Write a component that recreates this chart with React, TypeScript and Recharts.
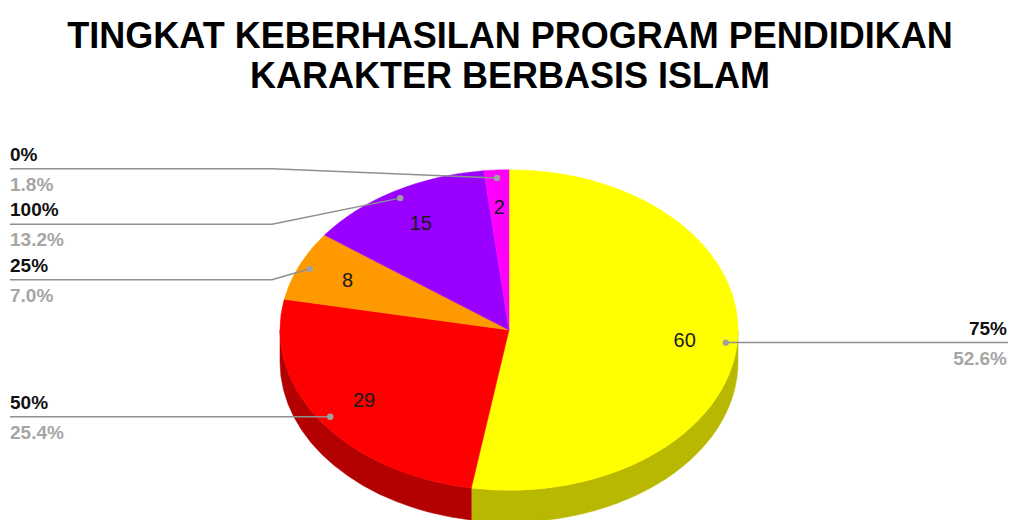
import React from 'react';
import { PieChart, Pie } from 'recharts';

const categories = ['75%', '50%', '25%', '100%', '0%'];
const counts = [60, 29, 8, 15, 2];
const topColors = ['#ffff00', '#ff0000', '#ff9900', '#9900ff', '#ff00ff'];
const sideColors = ['#b8b800', '#b30000', '#b36b00', '#6b00b3', '#b300b3'];
const titleLines = ['TINGKAT KEBERHASILAN PROGRAM PENDIDIKAN', 'KARAKTER BERBASIS ISLAM'];

const data = categories.map((name, i) => ({
  name,
  value: counts[i],
  fill: topColors[i],
  side: sideColors[i],
}));

const W = 1010;
const H = 520;
const CX = 509;
const CY = 330;
const R = 229;
const TILT = 0.7;
const DEPTH = 32;
const START = 90;
const END = -270;
const FONT = '"Liberation Sans", Arial, Helvetica, sans-serif';
const RAD = Math.PI / 180;
const LABEL_GAP = 55.5;

function pt(cx: number, cy: number, rx: number, ry: number, theta: number): [number, number] {
  return [cx + rx * Math.cos(theta * RAD), cy + ry * Math.sin(theta * RAD)];
}
const f = (p: [number, number]) => `${p[0].toFixed(2)},${p[1].toFixed(2)}`;

// label layout (avoid overlapping outside labels)
function computeLabelLines(): number[] {
  const total = counts.reduce((a, b) => a + b, 0);
  let acc = 0;
  const items = counts.map((v, i) => {
    const startTheta = -START + (acc / total) * 360;
    acc += v;
    const endTheta = -START + (acc / total) * 360;
    const mid = (startTheta + endTheta) / 2;
    const [, dy] = pt(CX, CY, R * 0.95, R * TILT * 0.95, mid);
    return { i, dotY: dy, left: Math.cos(mid * RAD) < 0 };
  });
  const result: number[] = new Array(counts.length).fill(0);
  [true, false].forEach((side) => {
    const list = items.filter((it) => it.left === side).sort((a, b) => a.dotY - b.dotY);
    const ys: number[] = [];
    list.forEach((it, k) => {
      ys.push(k === 0 ? it.dotY : Math.max(it.dotY, ys[k - 1] + LABEL_GAP));
    });
    // clusters
    let s = 0;
    while (s < list.length) {
      let e = s;
      while (e + 1 < list.length && ys[e + 1] > list[e + 1].dotY + 1e-6) e++;
      if (e > s) {
        let g = 0;
        let d = 0;
        for (let k = s; k <= e; k++) {
          g += ys[k];
          d += list[k].dotY;
        }
        const shift = (d - g) / (e - s + 1) / 2;
        for (let k = s; k <= e; k++) ys[k] += shift;
      }
      s = e + 1;
    }
    list.forEach((it, k) => {
      result[it.i] = ys[k];
    });
  });
  return result;
}
const labelLines = computeLabelLines();

const TopShape = (props: any) => {
  const { cx, cy, outerRadius, startAngle, endAngle, fill } = props;
  const rx = outerRadius;
  const ry = outerRadius * TILT;
  const t1 = Math.min(-startAngle, -endAngle);
  const t2 = Math.max(-startAngle, -endAngle);
  const large = t2 - t1 > 180 ? 1 : 0;
  const p1 = pt(cx, cy, rx, ry, t1);
  const p2 = pt(cx, cy, rx, ry, t2);
  const d = `M${cx},${cy} L${f(p1)} A${rx},${ry} 0 ${large} 1 ${f(p2)} Z`;
  return <path d={d} fill={fill} stroke={fill} strokeWidth={0.5} />;
};

const SideShape = (props: any) => {
  const { cx, cy, outerRadius, startAngle, endAngle, payload, index } = props;
  const rx = outerRadius;
  const ry = outerRadius * TILT;
  const t1 = Math.min(-startAngle, -endAngle);
  const t2 = Math.max(-startAngle, -endAngle);
  const a = Math.max(t1, 0);
  const b = Math.min(t2, 180);
  if (b <= a) return <g />;
  const color = (payload && payload.side) || sideColors[index ?? 0];
  const pa = pt(cx, cy, rx, ry, a);
  const pb = pt(cx, cy, rx, ry, b);
  const pad: [number, number] = [pa[0], pa[1] + DEPTH];
  const pbd: [number, number] = [pb[0], pb[1] + DEPTH];
  const d = `M${f(pa)} A${rx},${ry} 0 0 1 ${f(pb)} L${f(pbd)} A${rx},${ry} 0 0 0 ${f(pad)} Z`;
  return <path d={d} fill={color} stroke={color} strokeWidth={0.5} />;
};

const renderLabel = (props: any) => {
  const { cx, cy, midAngle, outerRadius, index, percent, value, name } = props;
  const rx = outerRadius;
  const ry = outerRadius * TILT;
  const theta = -midAngle;
  const [vx, vy] = pt(cx, cy, rx * 0.77, ry * 0.77, theta);
  const [dx, dy] = pt(cx, cy, rx * 0.95, ry * 0.95, theta);
  const lineY = labelLines[index];
  const left = Math.cos(theta * RAD) < 0;
  const bendX = cx - rx - 8;
  const pctText = `${(percent * 100).toFixed(1)}%`;
  let points: string;
  if (left) {
    points =
      Math.abs(lineY - dy) < 1
        ? `10,${lineY} ${dx},${dy}`
        : `10,${lineY} ${bendX},${lineY} ${dx},${dy}`;
  } else {
    points =
      Math.abs(lineY - dy) < 1
        ? `${W - 2},${lineY} ${dx},${dy}`
        : `${W - 2},${lineY} ${cx + rx + 8},${lineY} ${dx},${dy}`;
  }
  const tx = left ? 10 : W - 3;
  const anchor = left ? 'start' : 'end';
  return (
    <g>
      <text
        x={vx}
        y={vy}
        textAnchor="middle"
        dominantBaseline="central"
        fontFamily={FONT}
        fontSize={20}
        fill="#1a1a1a"
      >
        {value}
      </text>
      <polyline points={points} fill="none" stroke="#8f8f8f" strokeWidth={1.5} />
      <circle cx={dx} cy={dy} r={3.2} fill="#a0a0a0" />
      <text x={tx} y={lineY - 8} textAnchor={anchor} fontFamily={FONT} fontSize={19} fontWeight="bold" fill="#111">
        {name}
      </text>
      <text x={tx} y={lineY + 22} textAnchor={anchor} fontFamily={FONT} fontSize={19} fontWeight="bold" fill="#a6a6a6">
        {pctText}
      </text>
    </g>
  );
};

export default function App() {
  return (
    <div style={{ position: 'absolute', left: 0, top: 0, width: W, height: H, background: '#fff' }}>
      <svg width={W} height={100} style={{ position: 'absolute', left: 0, top: 0 }}>
        {titleLines.map((t, i) => (
          <text
            key={i}
            x={510}
            y={48 + i * 40}
            textAnchor="middle"
            fontFamily={FONT}
            fontSize={36}
            fontWeight="bold"
            fill="#000"
          >
            {t}
          </text>
        ))}
      </svg>
      <div style={{ position: 'absolute', left: 0, top: 0 }}>
        <PieChart width={W} height={H} margin={{ top: 0, right: 0, bottom: 0, left: 0 }}>
          <Pie
            data={data}
            dataKey="value"
            nameKey="name"
            cx={CX}
            cy={CY}
            innerRadius={0}
            outerRadius={R}
            startAngle={START}
            endAngle={END}
            stroke="none"
            shape={SideShape}
            label={false}
            labelLine={false}
            isAnimationActive={false}
          />
          <Pie
            data={data}
            dataKey="value"
            nameKey="name"
            cx={CX}
            cy={CY}
            innerRadius={0}
            outerRadius={R}
            startAngle={START}
            endAngle={END}
            stroke="none"
            shape={TopShape}
            label={renderLabel}
            labelLine={false}
            isAnimationActive={false}
          />
        </PieChart>
      </div>
    </div>
  );
}
